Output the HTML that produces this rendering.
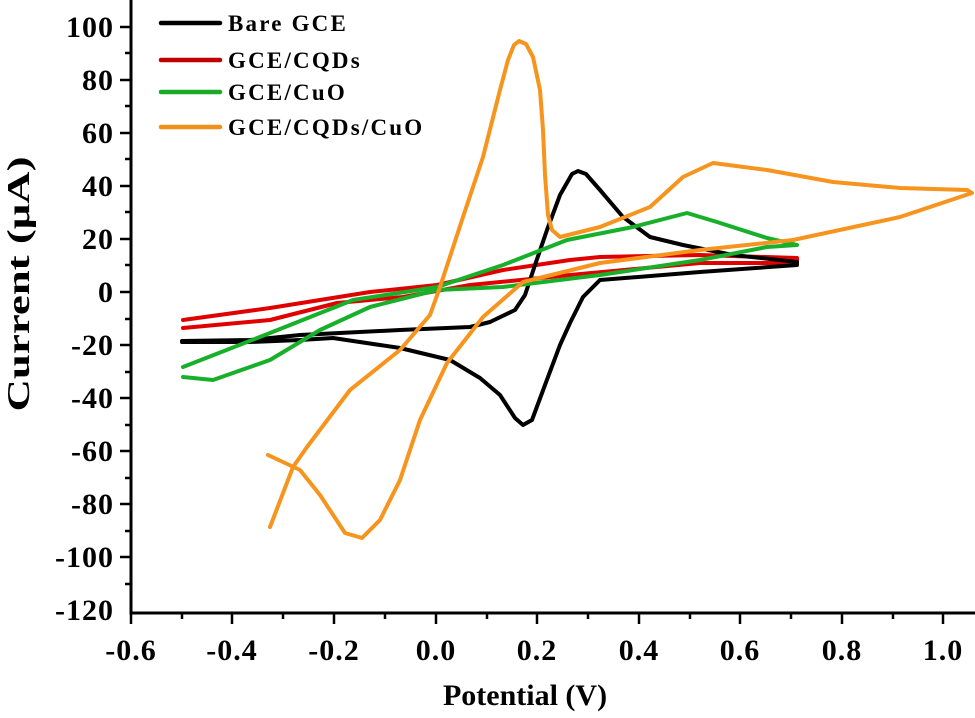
<!DOCTYPE html>
<html><head><meta charset="utf-8"><style>
body{margin:0;background:#fff}
svg{display:block}
text{font-family:"Liberation Serif",serif;font-weight:bold;fill:#000}
</style></head><body>
<svg width="975" height="718" viewBox="0 0 975 718">
<g stroke="#000" stroke-width="3" fill="none">
<line x1="131" y1="0" x2="131" y2="614"/>
<line x1="129.5" y1="613" x2="975" y2="613"/>
<g stroke-width="2.5">
<line x1="120" y1="27" x2="131" y2="27"/><line x1="125" y1="53" x2="131" y2="53"/>
<line x1="120" y1="80" x2="131" y2="80"/><line x1="125" y1="106" x2="131" y2="106"/>
<line x1="120" y1="133" x2="131" y2="133"/><line x1="125" y1="159" x2="131" y2="159"/>
<line x1="120" y1="186" x2="131" y2="186"/><line x1="125" y1="212" x2="131" y2="212"/>
<line x1="120" y1="239" x2="131" y2="239"/><line x1="125" y1="265" x2="131" y2="265"/>
<line x1="120" y1="292" x2="131" y2="292"/><line x1="125" y1="319" x2="131" y2="319"/>
<line x1="120" y1="345" x2="131" y2="345"/><line x1="125" y1="372" x2="131" y2="372"/>
<line x1="120" y1="398" x2="131" y2="398"/><line x1="125" y1="425" x2="131" y2="425"/>
<line x1="120" y1="451" x2="131" y2="451"/><line x1="125" y1="478" x2="131" y2="478"/>
<line x1="120" y1="504" x2="131" y2="504"/><line x1="125" y1="531" x2="131" y2="531"/>
<line x1="120" y1="557" x2="131" y2="557"/><line x1="125" y1="584" x2="131" y2="584"/>
<line x1="131" y1="613" x2="131" y2="624"/><line x1="182" y1="613" x2="182" y2="619"/>
<line x1="232" y1="613" x2="232" y2="624"/><line x1="283" y1="613" x2="283" y2="619"/>
<line x1="334" y1="613" x2="334" y2="624"/><line x1="385" y1="613" x2="385" y2="619"/>
<line x1="436" y1="613" x2="436" y2="624"/><line x1="487" y1="613" x2="487" y2="619"/>
<line x1="537" y1="613" x2="537" y2="624"/><line x1="588" y1="613" x2="588" y2="619"/>
<line x1="639" y1="613" x2="639" y2="624"/><line x1="690" y1="613" x2="690" y2="619"/>
<line x1="740" y1="613" x2="740" y2="624"/><line x1="791" y1="613" x2="791" y2="619"/>
<line x1="842" y1="613" x2="842" y2="624"/><line x1="893" y1="613" x2="893" y2="619"/>
<line x1="943" y1="613" x2="943" y2="624"/>
</g>
</g>
<g font-size="30" letter-spacing="1" text-anchor="end">
<text x="114" y="37">100</text><text x="114" y="90">80</text><text x="114" y="143">60</text>
<text x="114" y="196">40</text><text x="114" y="249">20</text><text x="114" y="302">0</text>
<text x="114" y="355">-20</text><text x="114" y="408">-40</text><text x="114" y="461">-60</text>
<text x="114" y="514">-80</text><text x="114" y="567">-100</text><text x="114" y="620">-120</text>
</g>
<g font-size="30" letter-spacing="1" text-anchor="middle">
<text x="131" y="660">-0.6</text><text x="232" y="660">-0.4</text><text x="334" y="660">-0.2</text>
<text x="436" y="660">0.0</text><text x="537" y="660">0.2</text><text x="639" y="660">0.4</text>
<text x="740" y="660">0.6</text><text x="842" y="660">0.8</text><text x="943" y="660">1.0</text>
</g>
<text x="525" y="705" font-size="30" text-anchor="middle">Potential (V)</text>
<text transform="translate(29,284) rotate(-90)" font-size="32" text-anchor="middle" textLength="255" lengthAdjust="spacingAndGlyphs">Current (μA)</text>
<g stroke-width="4.5" stroke-linecap="round">
<line x1="161" y1="23" x2="220" y2="23" stroke="#000"/>
<line x1="161" y1="60" x2="220" y2="60" stroke="#c00000"/>
<line x1="161" y1="92" x2="220" y2="92" stroke="#1aaa28"/>
<line x1="161" y1="127" x2="220" y2="127" stroke="#f0901a"/>
</g>
<g font-size="23" letter-spacing="2.2">
<text x="228" y="31">Bare GCE</text>
<text x="228" y="68">GCE/CQDs</text>
<text x="228" y="100">GCE/CuO</text>
<text x="228" y="135">GCE/CQDs/CuO</text>
</g>
<g fill="none" stroke-width="4" stroke-linejoin="round" stroke-linecap="round">
<path stroke="#e00000" d="M183,320 L270,308 L370,292 L437,285 L503,270 L570,260 L600,257 L700,255 L797,258 L797,263 L700,263 L570,275 L470,285 L403,297 L337,303 L270,320 L183,328"/>
<path stroke="#000" d="M182,341 L250,340 L300,335 L400,330 L470,327 L490,322 L515,310 L525,295 L535,265 L547,230 L560,195 L572,174 L578,171 L586,174 L600,190 L623,217 L650,237 L683,245 L733,255 L797,262 L797,265 L700,272 L600,280 L583,297 L570,323 L560,345 L545,385 L532,420 L523,425 L515,418 L500,395 L480,378 L450,360 L400,348 L333,338 L300,340 L250,342 L182,342"/>
<path stroke="#18b02a" d="M183,367 L270,333 L353,300 L437,287 L503,265 L567,240 L633,227 L687,213 L717,222 L767,238 L797,245 L767,247 L700,260 L600,275 L503,287 L437,290 L370,307 L320,330 L270,360 L213,380 L183,377"/>
<path stroke="#f7941d" d="M270,527 L293,467 L307,447 L350,390 L400,350 L430,315 L440,287 L463,217 L483,157 L500,90 L508,60 L514,45 L519,41 L526,44 L533,57 L540,90 L543,130 L545,175 L548,215 L552,230 L560,237 L600,227 L650,207 L683,177 L713,163 L767,170 L833,182 L900,188 L967,190 L972,193 L900,217 L793,240 L700,250 L600,263 L523,282 L483,317 L447,363 L420,420 L400,480 L380,520 L362,538 L345,533 L320,495 L300,470 L268,455"/>
</g>
</svg>
</body></html>
